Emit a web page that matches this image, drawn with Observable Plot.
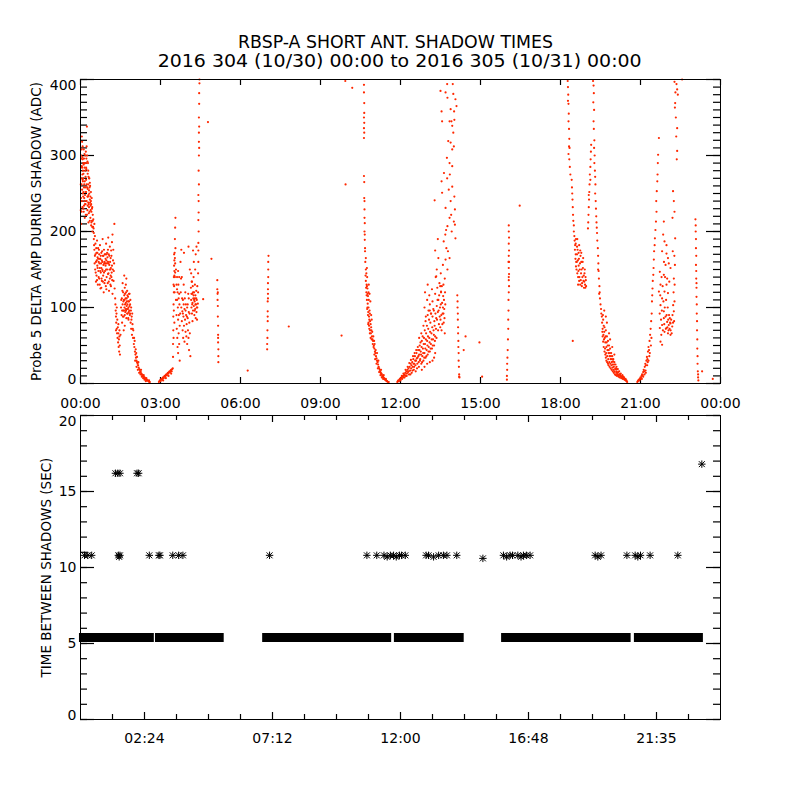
<!DOCTYPE html>
<html>
<head>
<meta charset="utf-8">
<script src="https://cdn.jsdelivr.net/npm/d3@7"></script>
<script src="https://cdn.jsdelivr.net/npm/@observablehq/plot@0.6"></script>
<style>
  body { margin: 0; background: #ffffff; }
  #chart { width: 800px; height: 800px; background: #ffffff; font-family: "DejaVu Sans", sans-serif; }
  #chart svg { display: block; }
</style>
</head>
<body>
<div id="chart"></div>
<script>
const titleLine1 = "RBSP-A SHORT ANT. SHADOW TIMES";
const titleLine2 = "2016 304 (10/30) 00:00 to 2016 305 (10/31) 00:00";
const topYLabel = "Probe 5 DELTA AMP DURING SHADOW (ADC)";
const bottomYLabel = "TIME BETWEEN SHADOWS (SEC)";

const topXTicks = [0, 3, 6, 9, 12, 15, 18, 21, 24];
const topXLabels = ["00:00", "03:00", "06:00", "09:00", "12:00", "15:00", "18:00", "21:00", "00:00"];
const topYMajor = [0, 100, 200, 300, 400];
const bottomXMajor = [2.4, 7.2, 12, 16.8, 21.6];
const bottomXLabels = ["02:24", "07:12", "12:00", "16:48", "21:35"];
const bottomXMinor = [1.2, 3.6, 4.8, 6.0, 8.4, 9.6, 10.8, 13.2, 14.4, 15.6, 18.0, 19.2, 20.4, 22.8];
const bottomYMajor = [0, 5, 10, 15, 20];

const ampPass1 = [
  [0.01,228],[0.02,300],[0.02,210],[0.03,285],[0.03,270],[0.04,262],[0.05,240],[0.05,325],[0.06,318],[0.06,255],
  [0.07,275],[0.08,295],[0.08,312],[0.09,250],[0.09,280],[0.1,270],[0.1,290],[0.11,230],[0.12,288],[0.12,308],
  [0.13,258],[0.14,244],[0.14,262],[0.15,302],[0.15,284],[0.16,266],[0.17,236],[0.17,248],[0.18,280],[0.18,300],
  [0.19,252],[0.2,222],[0.2,305],[0.21,268],[0.22,296],[0.22,282],[0.23,240],[0.24,338],[0.25,258],[0.25,300],
  [0.26,228],[0.26,246],[0.27,276],[0.28,246],[0.28,290],[0.29,262],[0.29,238],[0.3,212],[0.31,236],[0.32,270],
  [0.32,254],[0.33,250],[0.33,270],[0.34,226],[0.35,242],[0.36,260],[0.36,238],[0.37,218],[0.38,234],[0.39,252],
  [0.4,208],[0.4,236],[0.41,226],[0.42,244],[0.43,214],[0.44,232],[0.45,200],[0.46,222],[0.47,206],[0.48,216],
  [0.5,198],[0.52,210],[0.54,194],
  [0.01,262],[0.02,244],[0.03,296],[0.04,308],[0.04,226],[0.06,284],[0.07,232],[0.07,298],[0.09,266],[0.11,276],
  [0.11,252],[0.13,296],[0.13,234],[0.16,290],[0.16,218],[0.19,272],[0.19,236],[0.21,252],[0.21,284],[0.23,262],
  [0.24,222],[0.27,256],[0.27,234],[0.3,248],[0.3,272],[0.31,224],[0.34,258],[0.35,214],[0.37,246],[0.38,228],
  [0.41,212],[0.43,230],[0.44,206],[0.46,214],[0.49,204],[0.05,286],[0.08,268],[0.1,246],[0.12,226],[0.15,240],
  [0.18,258],[0.2,290],[0.23,312],[0.26,292],[0.29,280],[0.32,232],[0.35,264],[0.39,240],
  [0.5,190],[0.52,176],[0.54,168],[0.55,150],[0.56,184],[0.58,160],[0.6,172],[0.6,142],[0.62,188],[0.63,155],
  [0.64,166],[0.65,130],[0.66,178],[0.67,148],[0.68,160],[0.7,170],[0.7,138],[0.72,152],[0.73,182],[0.74,164],
  [0.75,125],[0.76,146],[0.77,158],[0.78,172],[0.8,135],[0.8,162],[0.82,150],[0.83,190],[0.84,168],[0.85,142],
  [0.86,156],[0.87,120],[0.88,176],[0.9,160],[0.9,132],[0.92,148],[0.93,170],[0.94,155],[0.95,128],[0.96,184],
  [0.97,162],[0.98,140],[1.0,172],[1.0,150],[1.02,132],[1.03,160],[1.04,192],[1.05,145],[1.06,170],[1.07,122],
  [1.08,156],[1.1,138],[1.1,180],[1.12,150],[1.13,165],[1.14,128],[1.15,175],[1.16,140],[1.18,155],[1.2,118],
  [1.2,196],[1.22,162],[1.24,135],[1.25,148],[1.27,210],[1.28,125],
  [0.51,182],[0.53,158],[0.56,170],[0.57,146],[0.59,178],[0.61,162],[0.62,136],[0.64,152],[0.66,164],[0.68,140],
  [0.69,176],[0.71,158],[0.72,130],[0.74,148],[0.76,168],[0.78,152],[0.79,138],[0.81,174],[0.82,160],[0.84,134],
  [0.86,168],[0.88,146],[0.89,158],[0.91,170],[0.92,136],[0.94,164],[0.96,150],[0.97,124],[0.99,158],[1.01,166],
  [1.03,144],[1.05,158],[1.06,134],[1.08,168],[1.09,150],[1.11,160],[1.12,130],[1.14,152],[1.16,168],[1.17,146],
  [1.19,136],[1.21,150],[1.23,176],[1.26,158],[0.63,172],[0.73,164],[0.83,148],[0.93,158],[1.03,176],[1.13,142],
  [0.58,134],[0.78,126],[0.98,170],[1.18,186],
  [1.3,112],[1.31,104],[1.32,96],[1.33,88],[1.33,70],[1.34,80],[1.35,92],[1.36,72],[1.36,100],[1.37,66],
  [1.38,84],[1.39,60],[1.4,74],[1.41,54],[1.42,66],[1.42,78],[1.43,48],[1.44,58],[1.45,42],[1.46,62],
  [1.46,70],[1.47,50],[1.48,38],
  [1.5,64],[1.52,100],[1.54,90],[1.55,112],[1.56,80],[1.58,104],[1.58,132],[1.6,96],[1.6,120],[1.62,88],
  [1.62,70],[1.63,110],[1.64,142],[1.65,100],[1.66,76],[1.66,126],[1.67,118],[1.68,94],[1.7,106],[1.7,130],
  [1.72,86],[1.72,138],[1.73,112],[1.74,98],[1.75,122],[1.76,104],[1.77,92],[1.78,114],[1.8,100],[1.8,84],
  [1.82,108],[1.83,96],[1.84,118],[1.85,90],[1.86,104],[1.88,80],[1.89,96],[1.9,72],[1.92,88],[1.93,64],
  [1.95,78],[1.97,60],[1.98,70],
  [1.53,110],[1.56,96],[1.57,122],[1.59,88],[1.61,108],[1.63,96],[1.64,116],[1.66,90],[1.67,104],[1.69,112],
  [1.71,96],[1.71,120],[1.73,102],[1.75,92],[1.76,116],[1.78,98],[1.79,108],[1.81,94],[1.82,118],[1.84,102],
  [1.86,92],[1.87,110],[1.9,100],[1.91,84],[1.94,92],[1.96,72],[1.65,110],[1.69,98],[1.74,108],[1.79,86],
  [2.0,52],[2.01,60],[2.02,48],[2.03,56],[2.04,42],[2.05,30],[2.06,38],[2.07,45],[2.08,34],[2.09,40],[2.1,30],
  [2.1,22],[2.12,28],[2.12,35],[2.14,26],[2.15,18],[2.16,24],[2.17,28],[2.18,21],[2.2,19],[2.2,14],[2.22,18],
  [2.24,16],[2.25,12],[2.26,15],[2.27,18],[2.28,13],[2.3,12],[2.3,9],[2.32,11],[2.34,10],[2.35,7],[2.36,9],
  [2.37,11],[2.38,8],[2.4,8],[2.4,5],[2.42,7],[2.44,6],[2.45,3],[2.46,5],[2.47,7],[2.48,5],[2.5,4],[2.52,4],
  [2.55,3],[2.57,4],[2.58,2],[2.6,2]
];
const ampPass2 = [
  [2.94,2],[2.96,3],[2.98,4],[3.0,3],[3.02,5],[3.04,6],[3.06,5],[3.08,7],[3.1,8],[3.1,4],[3.12,7],[3.14,9],
  [3.16,10],[3.18,9],[3.2,11],[3.2,7],[3.22,12],[3.24,11],[3.26,13],[3.28,14],[3.3,13],[3.3,10],[3.32,15],
  [3.34,16],[3.36,15],[3.38,17],[3.4,18],[3.4,13],[3.42,16],[3.44,19],
  [3.46,20],[3.47,35],[3.47,52],[3.48,70],[3.48,88],[3.49,104],[3.49,60],[3.5,120],[3.5,140],[3.5,96],
  [3.51,128],[3.51,155],[3.52,162],[3.52,148],[3.52,80],[3.53,172],[3.53,120],[3.54,140],[3.54,190],[3.55,158],
  [3.55,205],[3.56,218],[3.56,178],[3.58,150],[3.58,110],
  [3.54,165],[3.52,142],[3.49,130],[3.51,170],[3.55,146],
  [3.6,130],[3.6,90],[3.61,72],[3.62,110],[3.62,140],[3.63,60],[3.64,120],[3.64,48],[3.65,100],[3.66,84],
  [3.66,40],[3.67,130],[3.68,66],[3.68,112],[3.69,90],[3.7,52],[3.7,140],[3.71,104],[3.72,30],[3.72,76],
  [3.75,160],[3.76,120],[3.78,100],[3.78,176],[3.8,82],[3.8,140],[3.82,95],[3.83,70],[3.84,110],[3.85,60],
  [3.86,88],[3.87,130],[3.88,76],[3.88,172],[3.9,98],[3.9,55],[3.92,84],[3.93,120],[3.94,68],[3.95,104],
  [3.96,90],[3.97,62],[3.98,78],[4.0,100],[4.0,52],[4.02,86],[4.03,70],[4.04,118],[4.05,60],[4.05,180],
  [4.06,94],[4.07,44],[4.08,80],[4.1,66],[4.1,150],[4.12,36],
  [3.62,124],[3.66,148],[3.7,118],[3.74,92],[3.77,138],[3.81,112],[3.84,92],[3.87,104],[3.91,112],[3.94,96],
  [3.99,88],[4.02,104],[4.06,112],[4.09,92],
  [4.14,126],[4.15,110],[4.15,145],[4.16,100],[4.17,134],[4.18,92],[4.19,118],[4.2,106],[4.2,82],[4.21,128],
  [4.22,96],[4.22,175],[4.23,112],[4.24,140],[4.25,102],[4.25,160],[4.26,120],[4.27,90],[4.28,108],[4.29,130],
  [4.3,98],[4.3,150],[4.31,116],[4.32,86],[4.32,170],[4.33,104],[4.34,122],[4.35,94],[4.35,180],[4.36,110],
  [4.37,84],[4.38,100],[4.38,128],
  [4.16,118],[4.19,104],[4.22,120],[4.26,110],[4.28,96],[4.31,104],[4.34,112],[4.36,100],[4.18,134],[4.24,116],
  [4.29,112],
  [4.4,105],[4.41,120],[4.41,145],[4.42,160],[4.42,175],[4.42,185],[4.43,200],[4.42,215],[4.43,225],[4.43,240],
  [4.42,248],[4.44,262],[4.43,280],[4.44,300],[4.45,310],[4.44,318],[4.44,330],[4.45,338],[4.44,350],[4.45,368],
  [4.45,382],[4.46,395],[4.46,400],
  [4.6,111],[4.78,344],[4.91,164]
];
const ampSparse = [
  [5.13,136],[5.13,124],[5.14,118],[5.14,110],[5.15,120],[5.15,102],[5.15,88],[5.16,76],[5.16,64],[5.16,60],
  [5.16,54],[5.17,45],[5.17,36],[5.17,28],
  [6.27,17],
  [7.0,45],[7.0,52],[7.01,60],[7.01,70],[7.02,82],[7.02,88],[7.02,95],[7.02,108],[7.03,112],[7.03,118],
  [7.03,124],[7.03,132],[7.04,140],[7.04,150],[7.04,160],[7.05,168],
  [7.81,75],[9.79,63],[9.94,262],[9.93,398],[10.19,389]
];
const ampPass3 = [
  [10.63,393],[10.63,383],[10.64,369],[10.64,356],[10.63,350],[10.64,343],[10.63,336],[10.64,330],[10.63,323],
  [10.63,273],[10.64,265],[10.64,244],[10.65,240],[10.65,229],[10.65,218],[10.66,211],[10.65,200],[10.66,196],
  [10.66,189],[10.67,178],[10.67,174],
  [10.68,160],[10.7,165],[10.7,150],[10.7,135],[10.72,145],[10.72,120],[10.73,130],[10.74,110],[10.74,152],
  [10.75,140],[10.75,98],[10.76,125],[10.77,105],[10.78,90],[10.78,115],[10.79,78],[10.8,80],[10.8,100],
  [10.81,130],[10.82,88],[10.83,72],[10.84,96],[10.84,118],[10.85,66],[10.86,82],[10.87,108],[10.88,60],
  [10.9,74],[10.9,90],[10.92,58],[10.92,84],[10.94,68],[10.96,52],[10.98,62],
  [10.69,142],[10.71,126],[10.73,116],[10.76,100],[10.77,118],[10.79,94],[10.81,110],[10.83,84],[10.85,92],[10.86,70],
  [10.88,78],[10.89,66],[10.91,70],[10.93,62],[10.95,58],[10.97,56],[10.99,48],[10.74,128],[10.8,120],[10.82,76],
  [11.0,50],[11.01,56],[11.02,46],[11.02,38],[11.03,52],[11.04,42],[11.05,32],[11.06,40],[11.07,44],[11.08,36],
  [11.1,33],[11.1,26],[11.12,30],[11.12,40],[11.14,28],[11.15,20],[11.16,25],[11.17,30],[11.18,22],[11.2,20],
  [11.2,15],[11.22,18],[11.24,16],[11.25,11],[11.26,14],[11.27,18],[11.28,13],[11.3,12],[11.3,8],[11.32,10],
  [11.34,9],[11.35,6],[11.36,8],[11.37,11],[11.38,7],[11.4,6],[11.42,5],[11.44,5],[11.45,6],[11.46,4],
  [11.48,3],[11.5,3],[11.53,2],[11.56,2]
];
const ampPass4 = [
  [11.88,2],[11.9,3],[11.92,4],[11.94,3],[11.96,5],[11.98,6],[12.0,4],[12.02,7],[12.04,8],[12.06,6],
  [12.08,9],[12.1,10],[12.12,8],[12.14,12],[12.16,11],[12.18,14],[12.2,10],[12.22,16],[12.24,13],[12.26,18],
  [12.28,15],[12.3,20],[12.32,12],[12.34,22],[12.36,17],[12.38,26],[12.4,20],[12.42,14],[12.44,28],[12.46,22],
  [12.48,32],[12.5,18],[12.52,26],[12.54,36],[12.56,24],[12.58,30],[12.6,40],[12.62,20],[12.64,34],[12.66,44],
  [12.68,28],[12.7,38],[12.72,50],[12.74,32],[12.76,42],[12.78,26],[12.8,56],[12.82,36],[12.84,46],[12.86,30],
  [12.88,60],[12.9,40],[12.92,52],[12.94,34],[12.96,66],[12.98,44],[13.0,56],[13.02,38],[13.04,72],[13.06,48],
  [13.08,60],[13.1,42],[13.12,80],[13.14,52],[13.16,66],[13.18,46],[13.2,88],[13.22,58],[13.24,70],[13.26,50],
  [13.28,76],[13.3,62],
  [12.05,10],[12.11,13],[12.15,8],[12.19,18],[12.23,10],[12.27,22],[12.31,16],[12.33,27],[12.37,12],[12.39,31],
  [12.41,24],[12.45,17],[12.47,36],[12.49,26],[12.51,22],[12.53,40],[12.55,30],[12.57,16],[12.59,44],[12.61,33],
  [12.63,26],[12.65,48],[12.67,36],[12.69,22],[12.71,44],[12.73,30],[12.75,54],[12.77,38],[12.79,48],[12.81,28],
  [12.83,62],[12.85,40],[12.87,52],[12.89,34],[12.91,70],[12.93,46],[12.95,58],[12.97,36],[12.99,76],[13.01,50],
  [13.03,62],[13.05,42],[13.07,84],[13.09,54],[13.11,68],[13.13,46],[13.15,92],[13.17,58],[13.19,74],[13.21,50],
  [13.23,98],[13.25,64],[13.27,82],[13.29,56],[13.31,92],[13.33,72],[13.35,60],[13.37,84],[13.39,110],[13.41,70],
  [13.43,96],[13.45,116],[13.47,88],[13.49,74],[13.51,104],[13.53,90],[13.55,128],[13.57,78],[13.59,100],[13.61,92],
  [13.63,110],[13.65,86],[13.67,120],[12.7,60],[12.78,66],[12.86,76],[12.94,82],[13.02,90],[13.1,96],
  [12.8,18],[12.9,22],[13.0,26],[13.1,28],[13.2,30],[13.26,34],[13.3,40],
  [12.9,100],[12.92,120],[12.95,88],[13.0,110],[13.02,130],[13.05,96],[13.08,116],[13.1,104],[13.14,92],[13.18,124],
  [13.2,108],[13.25,96],[13.3,118],[13.3,175],[13.32,140],[13.34,86],[13.36,102],[13.36,150],[13.38,126],[13.4,94],
  [13.4,190],[13.42,110],[13.42,165],[13.44,78],[13.46,132],[13.48,100],[13.5,84],[13.52,120],[13.54,70],[13.56,106],
  [13.58,92],[13.6,115],[13.62,80],[13.64,98],[13.66,66],[13.68,104],
  [13.5,385],[13.54,358],[13.56,345],[13.75,394],[13.96,394],[13.69,383],[13.76,376],[13.98,381],[14.06,374],[14.1,365],
  [13.88,361],[14.01,358],[13.84,345],[13.91,345],[14.02,347],[13.94,339],[13.98,330],[13.79,319],[13.88,317],[14.0,312],
  [13.94,308],[13.74,297],[13.84,290],[13.94,286],[13.85,275],[13.63,277],[13.75,270],[13.54,266],[13.94,259],[13.81,255],
  [13.56,251],[14.02,246],[13.88,240],[13.69,231],[14.04,229],[13.9,222],[13.84,218],[14.0,213],[14.04,209],[13.76,207],
  [13.71,202],[13.92,200],[13.68,196],[14.06,191],[13.62,187],[13.72,178],[13.78,174],[13.84,165],[13.69,163],[13.59,156],
  [13.76,150],[13.51,145],[13.66,138],[13.61,130],[13.34,141],[13.49,128],[13.52,121],[13.28,241],
  [14.13,116],[14.14,108],[14.14,100],[14.15,92],[14.15,84],[14.16,74],[14.16,66],[14.17,56],[14.17,48],[14.18,40],
  [14.18,30],[14.19,22],[14.2,12],[14.2,9],[14.21,8],
  [14.37,44],[14.44,62],[14.96,54],[15.06,9],
  [16.06,208],[16.06,200],[16.07,192],[16.06,184],[16.07,175],[16.06,168],[16.05,160],[16.07,160],[16.06,152],[16.07,144],
  [16.06,140],[16.06,136],[16.07,128],[16.06,120],[16.05,110],[16.05,96],[16.04,84],[16.04,72],[16.03,58],[16.02,44],
  [16.01,34],[16.0,26],[16.0,18],[15.99,10],[15.99,5],
  [16.47,234]
];
const ampPass5 = [
  [18.27,398],[18.28,390],[18.29,380],[18.28,372],[18.3,368],[18.31,355],[18.3,345],[18.32,335],[18.33,322],[18.32,312],
  [18.34,310],[18.3,302],[18.33,295],[18.35,285],[18.37,275],
  [18.42,268],[18.43,258],[18.44,250],[18.45,242],[18.46,232],[18.47,222],[18.48,214],[18.5,208],[18.5,200],[18.52,194],
  [18.53,188],[18.55,182],[18.54,176],[18.57,170],[18.56,164],[18.59,160],[18.58,154],[18.58,190],[18.6,150],[18.62,170],
  [18.62,180],[18.63,145],[18.65,162],[18.66,140],[18.68,155],[18.68,172],[18.7,135],[18.72,150],[18.74,130],[18.74,175],
  [18.75,168],[18.77,145],[18.78,160],[18.8,128],[18.82,140],[18.84,152],[18.85,165],[18.86,135],[18.88,126],[18.9,145],
  [18.92,130],[18.94,140],[18.96,128],
  [18.57,184],[18.61,160],[18.64,176],[18.67,148],[18.69,164],[18.71,140],[18.73,158],[18.76,136],[18.79,150],[18.81,132],
  [18.83,160],[18.87,142],[18.89,134],[18.91,150],[18.93,126],[18.95,136],[18.63,190],[18.7,182],[18.78,172],[18.66,130],
  [18.46,56],
  [19.22,398],[19.24,392],[19.25,382],[19.23,370],[19.26,360],[19.24,345],[19.25,335],[19.27,320],[19.26,310],[19.28,300],
  [19.27,290],[19.29,280],[19.3,272],[19.31,262],[19.3,250],[19.32,240],[19.33,230],[19.34,220],[19.35,212],[19.36,205],
  [19.15,314],[19.14,305],[19.13,295],[19.12,285],[19.1,275],[19.12,268],[19.09,262],[19.08,252],[19.06,248],[19.07,242],
  [19.06,232],[19.05,222],[19.04,212],[19.03,204],
  [19.37,198],[19.38,188],[19.4,178],[19.41,168],[19.42,158],[19.41,150],[19.43,148],[19.44,138],[19.46,128],[19.47,120],
  [19.45,118],[19.48,112],[19.5,104],[19.52,98],[19.53,92],
  [19.55,88],[19.56,80],[19.58,72],[19.58,62],[19.6,84],[19.6,55],[19.62,76],[19.62,48],[19.64,68],[19.65,42],
  [19.66,60],[19.68,38],[19.68,54],[19.7,34],[19.7,70],[19.72,48],[19.72,30],[19.74,62],[19.75,28],[19.76,44],
  [19.78,26],[19.78,56],[19.8,40],[19.8,24],[19.82,50],[19.84,22],[19.84,36],[19.86,46],[19.88,20],[19.88,32],
  [19.9,40],[19.92,18],[19.92,28],[19.94,36],[19.96,16],[19.96,25],[19.98,32],[20.0,14],[20.0,22],[20.02,28],
  [20.04,12],[20.05,19],[20.06,25],[20.08,11],[20.1,16],[20.1,22],[20.12,10],[20.14,14],[20.15,19],[20.18,9],
  [20.2,12],[20.2,16],[20.22,8],[20.25,10],[20.26,13],[20.28,7],[20.3,9],[20.32,11],[20.34,6],[20.36,7],
  [20.38,8],[20.4,5],[20.42,5],[20.45,4],[20.48,3],[20.5,2],
  [19.57,68],[19.59,90],[19.61,64],[19.63,58],[19.65,74],[19.67,46],[19.69,62],[19.71,40],[19.73,54],[19.75,36],
  [19.77,50],[19.79,32],[19.81,44],[19.83,28],[19.85,40],[19.87,26],[19.89,36],[19.91,24],[19.93,32],[19.95,21],
  [19.97,29],[19.99,18],[20.01,25],[20.03,16],[20.07,20],[20.09,14],[20.11,19],[20.13,12],[20.16,15],[20.19,11],
  [20.23,12],[20.27,9],[20.31,8],[20.35,9],[20.39,6],[20.44,6],[20.47,4],[19.74,80],[19.64,96],[19.7,88],
  [19.82,66],[19.86,58],[19.94,48],[20.02,38]
];
const ampPass6 = [
  [20.88,2],[20.9,3],[20.92,4],[20.94,5],[20.96,4],[20.98,6],[21.0,8],[21.02,7],[21.04,10],[21.05,6],[21.06,12],
  [21.08,11],[21.1,15],[21.1,9],[21.12,18],[21.14,16],[21.15,12],[21.16,22],[21.18,26],[21.19,17],[21.2,24],[21.2,14],
  [21.22,30],[21.24,35],[21.25,24],[21.26,32],[21.27,28],[21.28,42],[21.3,48],[21.3,30],[21.32,44],[21.33,36],
  [21.34,56],[21.35,40],[21.36,64],[21.38,72],[21.39,50],[21.4,82],[21.41,60],[21.42,92],
  [21.69,323],[21.66,301],[21.65,290],[21.64,275],[21.63,266],[21.61,253],[21.59,240],[21.6,226],[21.58,213],[21.56,202],
  [21.54,191],[21.53,182],[21.51,174],[21.5,163],[21.49,152],[21.48,143],[21.46,135],[21.45,125],[21.44,116],[21.43,108],
  [21.875,213],[21.85,196],[21.9,187],[21.81,174],[21.975,171],[22.03,165],[21.94,156],[22.06,158],[22.125,152],[21.725,147],
  [21.875,143],[22.0,138],[21.75,130],[22.08,134],[21.975,130],[21.69,121],[21.81,112],[22.03,119],[21.75,103],[21.875,95],
  [21.94,88],[22.0,81],[22.06,77],[22.125,79],[22.19,75],[21.975,73],[21.9,68],[22.03,66],[22.125,64],[21.75,55],
  [21.78,64],[21.81,77],[22.25,95],[22.225,103],[22.275,108],[22.2,90],[22.1,86],[21.875,86],[21.725,73],[21.81,51],
  [22.2,218],[22.25,240],[22.22,253],[22.275,226],[22.3,191],[22.21,174],[22.29,156],[22.25,138],[21.975,182],[21.9,121],
  [21.72,92],[21.74,116],[21.77,84],[21.79,140],[21.8,96],[21.83,128],[21.84,70],[21.86,108],[21.88,160],[21.89,78],
  [21.91,100],[21.92,140],[21.95,72],[21.96,110],[21.98,90],[22.01,74],[22.02,100],[22.04,84],[22.05,70],[22.07,90],
  [22.09,72],[22.11,80],[22.13,70],[22.15,84],[22.17,66],[22.22,80],[22.24,120],[22.26,82],[22.28,130],[22.27,168],
  [22.275,397],[22.35,394],[22.375,387],[22.31,383],[22.4,380],[22.3,369],[22.29,363],[22.325,350],[22.375,336],[22.34,325],
  [22.375,306],[22.36,295],[22.56,400],
  [23.06,216],[23.07,208],[23.07,200],[23.08,190],[23.08,178],[23.09,168],[23.08,156],[23.09,148],[23.09,138],[23.1,132],
  [23.1,126],[23.1,114],[23.11,104],[23.11,92],[23.12,82],[23.12,70],[23.13,58],[23.13,46],[23.14,36],[23.14,26],
  [23.15,16],[23.16,12],[23.16,8],[23.17,4],
  [23.31,16],[23.71,6]
];

const runStart = [0.13, 2.98, 7.0, 11.94, 15.96, 20.94];
const runEnd   = [2.60, 5.22, 11.5, 14.22, 20.48, 23.19];
const runGap   = [5.4, 5.4, 5.4, 5.4, 5.4, 5.4];
const gapHours = [0.15,0.27,0.42,1.42,1.45,1.48,2.58,2.94,2.98,3.46,3.68,3.84,7.09,
  10.74,11.11,11.38,11.5,11.62,11.74,11.84,11.96,12.04,12.18,
  12.96,13.05,13.24,13.43,13.61,13.74,14.11,15.09,
  15.86,15.98,16.11,16.2,16.4,16.52,16.61,16.72,16.86,
  19.3,19.4,19.52,20.49,20.8,20.9,21.0,21.36,22.4,
  1.31,1.4,1.48,2.12,2.18,23.3];
const gapSeconds = [10.8,10.8,10.8,10.8,10.7,10.8,10.8,10.8,10.8,10.8,10.8,10.8,10.8,
  10.8,10.8,10.8,10.7,10.8,10.8,10.7,10.8,10.8,10.8,
  10.8,10.8,10.7,10.8,10.8,10.8,10.8,10.6,
  10.8,10.7,10.8,10.8,10.8,10.7,10.8,10.8,10.8,
  10.8,10.7,10.8,10.8,10.8,10.7,10.8,10.8,10.8,
  16.2,16.2,16.2,16.2,16.2,16.8];

const ampData = [...ampPass1, ...ampPass2, ...ampSparse, ...ampPass3, ...ampPass4, ...ampPass5, ...ampPass6]
  .map(([h, v]) => ({h, v}));
const runs = runStart.map((s, i) => ({t0: s, t1: runEnd[i], g: runGap[i]}));
const gaps = gapHours.map((h, i) => ({h, g: gapSeconds[i]}));
const topXMap = new Map(topXTicks.map((t, i) => [t, topXLabels[i]]));
const botXMap = new Map(bottomXMajor.map((t, i) => [t, bottomXLabels[i]]));
const topYMinor = d3.range(0, 401, 10);
const bottomYMinor = d3.range(0, 21, 1);

const asterisk = {
  draw(ctx, size) {
    const r = Math.sqrt(size / Math.PI);
    const d = r * 0.8;
    ctx.moveTo(-r, 0); ctx.lineTo(r, 0);
    ctx.moveTo(0, -r); ctx.lineTo(0, r);
    ctx.moveTo(-d, -d); ctx.lineTo(d, d);
    ctx.moveTo(-d, d); ctx.lineTo(d, -d);
  }
};

const font = "DejaVu Sans";
const FW = 640, FH = 304;
const XD = [0, 24];
const INK = "#000000";

const sideTicks = (vals, len, yd, axis) => {
  if (axis === "y") {
    const w = len * (XD[1] - XD[0]) / FW;
    const rowsL = vals.map(v => ({v, a: XD[0], b: XD[0] + w}));
    const rowsR = vals.map(v => ({v, a: XD[1] - w, b: XD[1]}));
    return [
      Plot.ruleY(rowsL, {y: "v", x1: "a", x2: "b", stroke: INK, strokeWidth: 1.2}),
      Plot.ruleY(rowsR, {y: "v", x1: "a", x2: "b", stroke: INK, strokeWidth: 1.2})
    ];
  }
  const h = len * (yd[1] - yd[0]) / FH;
  const rowsT = vals.map(v => ({v, a: yd[1] - h, b: yd[1]}));
  const rowsB = vals.map(v => ({v, a: yd[0], b: yd[0] + h}));
  return [
    Plot.ruleX(rowsT, {x: "v", y1: "a", y2: "b", stroke: INK, strokeWidth: 1.2}),
    Plot.ruleX(rowsB, {x: "v", y1: "a", y2: "b", stroke: INK, strokeWidth: 1.2})
  ];
};
const yLabels = (vals) => [
  Plot.axisY(vals.slice(1, -1), {anchor: "left", tickSize: 0, tickPadding: 4, label: null}),
  Plot.axisY(vals.slice(0, 1), {anchor: "left", tickSize: 0, tickPadding: 4, dy: -4, label: null}),
  Plot.axisY(vals.slice(-1), {anchor: "left", tickSize: 0, tickPadding: 4, dy: 6, label: null})
];

const header = d3.create("svg").attr("width", 800).attr("height", 70)
  .attr("font-family", font).style("display", "block");
header.append("text").attr("x", 395.5).attr("y", 48).attr("text-anchor", "middle")
  .attr("font-size", 17.5).attr("textLength", 315).attr("lengthAdjust", "spacingAndGlyphs").text(titleLine1);
header.append("text").attr("x", 399.7).attr("y", 66.5).attr("text-anchor", "middle")
  .attr("font-size", 17.5).attr("textLength", 484).attr("lengthAdjust", "spacingAndGlyphs").text(titleLine2);

const TYD = [0, 400], BYD = [0, 20];

const topPlot = Plot.plot({
  width: 800, height: 343,
  marginLeft: 80, marginRight: 80, marginTop: 9, marginBottom: 30,
  style: {fontFamily: font, fontSize: "14px"},
  x: {domain: XD},
  y: {domain: TYD},
  marks: [
    ...sideTicks(topYMajor, 14, TYD, "y"),
    ...sideTicks(topYMinor, 7, TYD, "y"),
    ...sideTicks(topXTicks, 6, TYD, "x"),
    Plot.dot(ampData, {x: "h", y: "v", r: 1.1, fill: "#ff2800", stroke: null}),
    Plot.frame({stroke: INK}),
    ...yLabels(topYMajor),
    Plot.axisX(topXTicks, {anchor: "bottom", tickSize: 0, tickPadding: 15, tickFormat: d => topXMap.get(d), label: null}),
    Plot.text([topYLabel], {text: d => d, frameAnchor: "left", dx: -40, rotate: -90, textAnchor: "middle",
      lineAnchor: "bottom", fontSize: 13.5, fill: INK})
  ]
});

const bottomPlot = Plot.plot({
  width: 800, height: 347,
  marginLeft: 80, marginRight: 80, marginTop: 2, marginBottom: 41,
  style: {fontFamily: font, fontSize: "14px"},
  x: {domain: XD},
  y: {domain: BYD},
  marks: [
    ...sideTicks(bottomYMajor, 14, BYD, "y"),
    ...sideTicks(bottomYMinor, 7, BYD, "y"),
    ...sideTicks(bottomXMajor, 7, BYD, "x"),
    ...sideTicks(bottomXMinor, 5, BYD, "x"),
    Plot.ruleY(runs, {y: "g", x1: "t0", x2: "t1", stroke: INK, strokeWidth: 9, strokeLinecap: "square"}),
    Plot.dot(gaps, {x: "h", y: "g", r: 3.7, symbol: asterisk, fill: "none", stroke: INK, strokeWidth: 1}),
    Plot.frame({stroke: INK}),
    ...yLabels(bottomYMajor),
    Plot.axisX(bottomXMajor, {anchor: "bottom", tickSize: 0, tickPadding: 14, tickFormat: d => botXMap.get(d), label: null}),
    Plot.text([bottomYLabel], {text: d => d, frameAnchor: "left", dx: -30, rotate: -90, textAnchor: "middle",
      lineAnchor: "bottom", fontSize: 13.5, fill: INK})
  ]
});

const chart = document.getElementById("chart");
chart.appendChild(header.node());
chart.appendChild(topPlot);
chart.appendChild(bottomPlot);
</script>
</body>
</html>
